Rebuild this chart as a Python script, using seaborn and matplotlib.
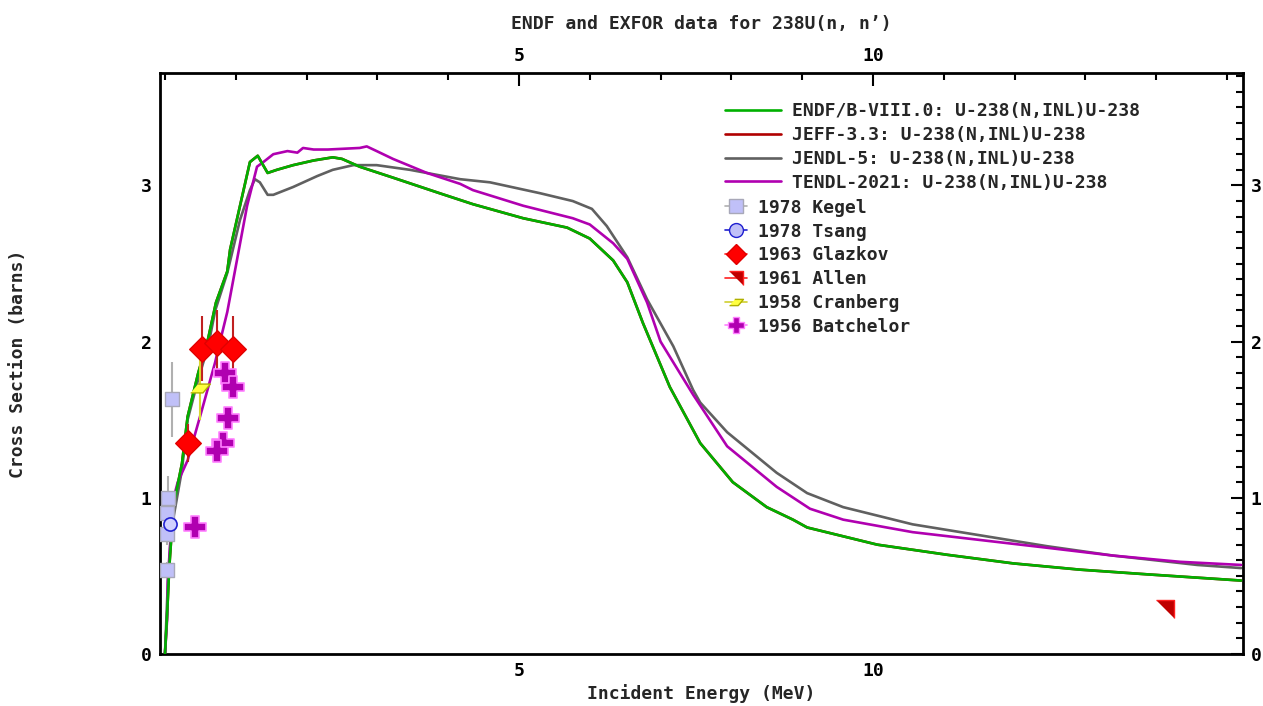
import numpy as np
import pandas as pd
import seaborn as sns
import matplotlib
matplotlib.use("Agg")
from matplotlib import pyplot as plt
from matplotlib.lines import Line2D
from matplotlib.ticker import MultipleLocator

# evaluated data (MeV, barns)
endf_e = [0.0, 0.03, 0.06, 0.12, 0.24, 0.32, 0.47, 0.61, 0.72, 0.88, 0.92,
          1.06, 1.20, 1.31, 1.45, 1.58, 1.81, 2.10, 2.37, 2.50, 2.75, 3.22,
          3.88, 4.35, 5.06, 5.68, 6.00, 6.33, 6.53, 6.75, 7.13, 7.56, 8.02,
          8.50, 8.87, 9.07, 10.06, 11.05, 11.98, 12.92, 13.87, 15.2]
endf_xs = [0.0, 0.25, 0.55, 0.95, 1.22, 1.52, 1.80, 2.02, 2.25, 2.45, 2.59,
           2.87, 3.15, 3.19, 3.08, 3.10, 3.13, 3.16, 3.18, 3.17, 3.12, 3.05,
           2.95, 2.88, 2.79, 2.73, 2.66, 2.52, 2.38, 2.12, 1.71, 1.35, 1.10,
           0.94, 0.86, 0.81, 0.70, 0.635, 0.58, 0.54, 0.51, 0.47]

# JEFF-3.3 sits under ENDF/B-VIII.0 in the picture
jeff_e = endf_e
jeff_xs = endf_xs

jendl_e = [0.0, 0.04, 0.09, 0.15, 0.24, 0.32, 0.47, 0.61, 0.71, 0.88, 1.06,
           1.20, 1.27, 1.34, 1.45, 1.53, 1.81, 2.15, 2.37, 2.66, 2.99, 3.46,
           4.17, 4.59, 5.30, 5.76, 6.03, 6.24, 6.53, 6.81, 7.18, 7.46, 7.56,
           7.94, 8.64, 9.07, 9.58, 10.56, 11.51, 12.46, 13.39, 14.58, 15.2]
jendl_xs = [0.0, 0.45, 0.80, 0.95, 1.18, 1.50, 1.76, 1.97, 2.20, 2.44, 2.78,
            2.97, 3.04, 3.02, 2.94, 2.94, 2.99, 3.06, 3.10, 3.13, 3.13, 3.10,
            3.04, 3.02, 2.95, 2.90, 2.85, 2.74, 2.54, 2.27, 1.97, 1.69, 1.61,
            1.42, 1.16, 1.03, 0.94, 0.83, 0.76, 0.69, 0.63, 0.57, 0.55]

tendl_e = [0.0, 0.03, 0.04, 0.085, 0.14, 0.18, 0.32, 0.52, 0.71, 0.74, 0.88,
           1.02, 1.16, 1.30, 1.39, 1.53, 1.73, 1.87, 1.95, 2.10, 2.30, 2.75,
           2.85, 2.99, 3.22, 3.70, 4.17, 4.35, 5.06, 5.76, 6.00, 6.33, 6.53,
           6.81, 7.00, 7.46, 7.94, 8.64, 9.11, 9.58, 10.56, 11.51, 12.46,
           13.39, 14.34, 15.2]
tendl_xs = [0.0, 0.22, 0.47, 0.79, 1.03, 1.10, 1.24, 1.56, 1.87, 1.93, 2.19,
            2.53, 2.87, 3.12, 3.15, 3.20, 3.22, 3.21, 3.24, 3.23, 3.23, 3.24,
            3.25, 3.22, 3.17, 3.08, 3.01, 2.97, 2.87, 2.79, 2.75, 2.63, 2.53,
            2.25, 2.00, 1.66, 1.33, 1.07, 0.93, 0.86, 0.78, 0.73, 0.68,
            0.63, 0.59, 0.57]

# EXFOR points
kegel_e = [0.04, 0.03, 0.03, 0.03, 0.10]
kegel_xs = [1.00, 0.90, 0.77, 0.54, 1.63]
kegel_err = [0.14, 0.07, 0.07, 0.05, 0.24]

tsang_e = [0.07]
tsang_xs = [0.83]

glazkov_e = [0.32, 0.52, 0.73, 0.96]
glazkov_xs = [1.35, 1.955, 1.99, 1.955]
glazkov_err = [0.12, 0.21, 0.21, 0.21]

allen_e = [14.12]
allen_xs = [0.29]

cranberg_e = [0.50]
cranberg_xs = [1.70]
cranberg_err = [0.20]

batch_e = [0.42, 0.85, 0.96, 0.89, 0.82, 0.73]
batch_xs = [0.81, 1.80, 1.71, 1.51, 1.35, 1.30]

eval_names = ["ENDF/B-VIII.0: U-238(N,INL)U-238",
              "JEFF-3.3: U-238(N,INL)U-238",
              "JENDL-5: U-238(N,INL)U-238",
              "TENDL-2021: U-238(N,INL)U-238"]
exfor_names = ["1978 Kegel", "1978 Tsang", "1963 Glazkov", "1961 Allen",
               "1958 Cranberg", "1956 Batchelor"]

sns.set_style("white")
plt.rcParams["font.family"] = ["DejaVu Sans Mono"]
plt.rcParams["font.weight"] = "bold"
FS = 13
LW = 1.9

fig = plt.figure(figsize=(12.63, 7.06), dpi=100)
ax = fig.add_axes([0.1267, 0.0737, 0.8571, 0.8229])

# curves
curves = [(jeff_e, jeff_xs, "#b00000", 1),
          (jendl_e, jendl_xs, "#606060", 2),
          (tendl_e, tendl_xs, "#b000b0", 3),
          (endf_e, endf_xs, "#00b000", 4)]
for e, xs, col, z in curves:
    d = pd.DataFrame({"E": e, "xs": xs})
    sns.lineplot(data=d, x="E", y="xs", ax=ax, color=col, lw=LW,
                 estimator=None, sort=False, legend=False, zorder=z)

# markers
allen_marker = [(-1, 1), (1, 1), (1, -1)]
cran_marker = [(-1, -0.45), (0.25, -0.45), (1, 0.45), (-0.25, 0.45)]

ax.errorbar(kegel_e, kegel_xs, yerr=kegel_err, fmt="none", ecolor="#b0b0b0",
            elinewidth=1.5, zorder=5)
ax.errorbar(glazkov_e, glazkov_xs, yerr=glazkov_err, fmt="none",
            ecolor="#c02020", elinewidth=1.5, zorder=5)
ax.errorbar(cranberg_e, cranberg_xs, yerr=cranberg_err, fmt="none",
            ecolor="#d8d830", elinewidth=1.5, zorder=5)

sns.scatterplot(x=kegel_e, y=kegel_xs, ax=ax, marker="s", s=110,
                color="#c0c0f8", edgecolor="#a8a8b8", linewidth=1, zorder=6)
sns.scatterplot(x=tsang_e, y=tsang_xs, ax=ax, marker="o", s=90,
                color="#d0d0ff", edgecolor="#2020d0", linewidth=1.2, zorder=7)
sns.scatterplot(x=glazkov_e, y=glazkov_xs, ax=ax, marker="D", s=170,
                color="#ff0000", edgecolor="#e00000", linewidth=1, zorder=6)
sns.scatterplot(x=allen_e, y=allen_xs, ax=ax, marker=allen_marker, s=150,
                color="#c00000", edgecolor="#ff2020", linewidth=1, zorder=6)
sns.scatterplot(x=cranberg_e, y=cranberg_xs, ax=ax, marker=cran_marker, s=200,
                color="#ffff40", edgecolor="#b0b000", linewidth=1, zorder=6)
sns.scatterplot(x=batch_e, y=batch_xs, ax=ax, marker="P", s=230,
                color="#b000b0", edgecolor="#ff80ff", linewidth=1.2, zorder=6)

# axes
ax.set_xlim(-0.07, 15.22)
ax.set_ylim(0, 3.72)
ax.set_xticks([5, 10])
ax.xaxis.set_minor_locator(MultipleLocator(1))
ax.set_yticks([0, 1, 2, 3])
ax.yaxis.set_minor_locator(MultipleLocator(0.1))
ax.tick_params(which="both", direction="in", top=True, right=True,
               labeltop=True, labelright=True, labelsize=FS, width=1.5,
               colors="black", pad=6)
ax.tick_params(which="major", length=9)
ax.tick_params(which="minor", length=5)
for sp in ax.spines.values():
    sp.set_color("black")
    sp.set_linewidth(2)

ax.set_xlabel("Incident Energy (MeV)", fontsize=FS, fontweight="bold",
              labelpad=3)
ax.set_ylabel("Cross Section (barns)", fontsize=FS, fontweight="bold",
              labelpad=82)
ax.set_title("ENDF and EXFOR data for 238U(n, n’)", fontsize=FS,
             fontweight="bold", pad=32)

# legends
line_handles = [Line2D([], [], color=c, lw=LW) for c in
                ["#00b000", "#b00000", "#606060", "#b000b0"]]
leg1 = ax.legend(line_handles, eval_names, loc="upper left",
                 bbox_to_anchor=(0.515, 0.962), frameon=False, fontsize=FS,
                 handlelength=3.1, handletextpad=0.6, labelspacing=0.32,
                 borderaxespad=0)
ax.add_artist(leg1)

mk = dict(lw=1.2, markersize=10)
exfor_handles = [
    Line2D([], [], color="#b0b0b0", marker="s", mfc="#c0c0f8",
           mec="#a8a8b8", **mk),
    Line2D([], [], color="#2020d0", marker="o", mfc="#c0c0f8",
           mec="#2020d0", **mk),
    Line2D([], [], color="#ff2020", marker="D", mfc="#ff0000",
           mec="#e00000", **mk),
    Line2D([], [], color="#ff2020", marker=allen_marker, mfc="#c00000",
           mec="#ff2020", **mk),
    Line2D([], [], color="#d0d030", marker=cran_marker, mfc="#ffff40",
           mec="#b0b000", **mk),
    Line2D([], [], color="#ff80ff", marker="P", mfc="#b000b0",
           mec="#ff80ff", lw=1.2, markersize=12),
]
ax.legend(exfor_handles, exfor_names, loc="upper left",
          bbox_to_anchor=(0.515, 0.796), frameon=False, fontsize=FS,
          handlelength=1.25, handletextpad=0.6, labelspacing=0.32,
          borderaxespad=0)

fig.savefig("out.png", dpi=100, facecolor="white")
